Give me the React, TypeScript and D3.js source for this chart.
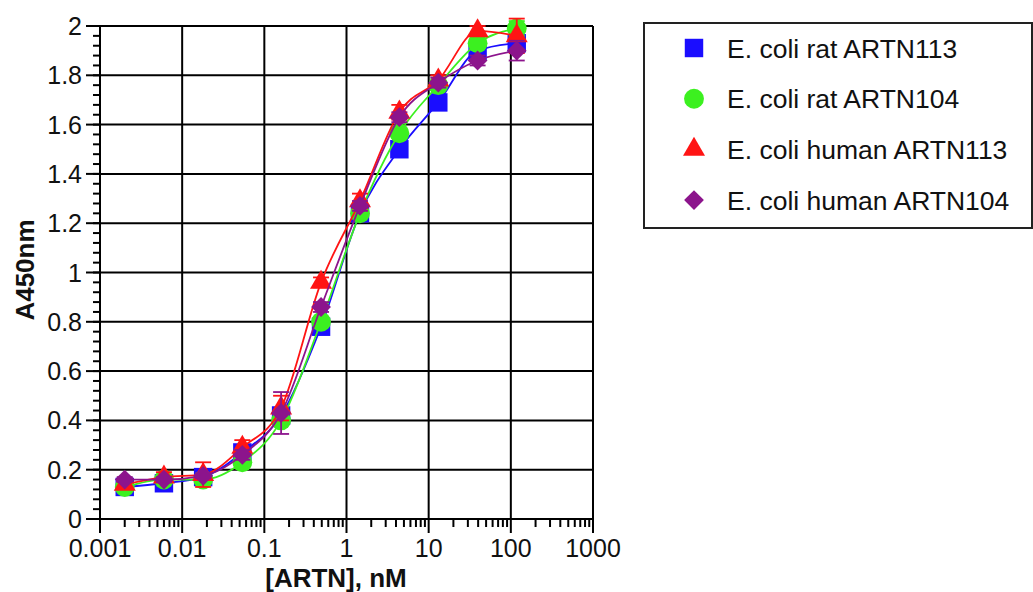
import React from "react";
import * as d3 from "d3";

// concentrations (nM), 3-fold dilution series
const conc = [0.002, 0.006, 0.018, 0.054, 0.16, 0.49, 1.46, 4.4, 13.1, 39.4, 118];

const ratArtn113 = [0.13, 0.145, 0.17, 0.27, 0.42, 0.78, 1.24, 1.5, 1.69, 1.9, 1.93];
const ratArtn113Err = [0.01, 0.01, 0.01, 0.02, 0.03, 0.02, 0.02, 0.02, 0.02, 0.02, 0.02];
const ratArtn104 = [0.13, 0.16, 0.16, 0.23, 0.4, 0.8, 1.24, 1.565, 1.76, 1.93, 1.99];
const ratArtn104Err = [0.01, 0.01, 0.01, 0.02, 0.02, 0.02, 0.02, 0.02, 0.02, 0.02, 0.03];
const humArtn113 = [0.14, 0.17, 0.18, 0.29, 0.45, 0.96, 1.29, 1.65, 1.78, 1.98, 1.96];
const humArtn113Err = [0.01, 0.02, 0.05, 0.03, 0.05, 0.02, 0.03, 0.03, 0.02, 0.02, 0.07];
const humArtn104 = [0.16, 0.16, 0.175, 0.26, 0.43, 0.86, 1.27, 1.63, 1.77, 1.86, 1.9];
const humArtn104Err = [0.01, 0.01, 0.01, 0.02, 0.085, 0.02, 0.02, 0.02, 0.02, 0.02, 0.04];

const seriesNames = [
  "E. coli rat ARTN113",
  "E. coli rat ARTN104",
  "E. coli human ARTN113",
  "E. coli human ARTN104",
];
const xTickLabels = ["0.001", "0.01", "0.1", "1", "10", "100", "1000"];
const yTickLabels = ["0", "0.2", "0.4", "0.6", "0.8", "1", "1.2", "1.4", "1.6", "1.8", "2"];

const series = [
  { name: seriesNames[0], y: ratArtn113, err: ratArtn113Err, color: "#1a0dff", shape: "square" },
  { name: seriesNames[1], y: ratArtn104, err: ratArtn104Err, color: "#3cf020", shape: "circle" },
  { name: seriesNames[2], y: humArtn113, err: humArtn113Err, color: "#ff1414", shape: "triangle" },
  { name: seriesNames[3], y: humArtn104, err: humArtn104Err, color: "#8c148c", shape: "diamond" },
];

const font = "'Liberation Sans', Arial, Helvetica, sans-serif";

const left = 100, right = 593, top = 26, bottom = 519;

const x = d3.scaleLog().domain([0.001, 1000]).range([left, right]);
const y = d3.scaleLinear().domain([0, 2]).range([bottom, top]);

const symbolPath = (shape: string) => {
  if (shape === "square") return d3.symbol(d3.symbolSquare, 340)()!;
  if (shape === "circle") return d3.symbol(d3.symbolCircle, 310)()!;
  if (shape === "triangle") return d3.symbol(d3.symbolTriangle, 210)()!;
  return d3.symbol(d3.symbolDiamond2, 250)()!;
};

const Marker = ({ shape, color, cx, cy }: { shape: string; color: string; cx: number; cy: number }) => (
  <path d={symbolPath(shape)} transform={`translate(${cx},${cy})`} fill={color} />
);

export default function App() {
  const decades = xTickLabels.map((t) => +t);
  const minors: number[] = [];
  for (let i = 0; i < decades.length - 1; i++) {
    for (let k = 2; k <= 9; k++) minors.push(decades[i] * k);
  }
  const yMajors = yTickLabels.map((t) => +t);
  const yMinors = d3.range(0, 2.0001, 0.04);

  const line = d3
    .line<number>()
    .x((_, i) => x(conc[i]))
    .y((d) => y(d))
    .curve(d3.curveMonotoneX);

  return (
    <svg
      width={1033}
      height={592}
      style={{ position: "absolute", left: 0, top: 0, background: "#fff" }}
      fontFamily={font}
    >
      {/* grid */}
      {decades.map((d) => (
        <line key={"gx" + d} x1={x(d)} x2={x(d)} y1={top} y2={bottom} stroke="#000" strokeWidth={2} />
      ))}
      {yMajors.map((d) => (
        <line key={"gy" + d} x1={left} x2={right} y1={y(d)} y2={y(d)} stroke="#000" strokeWidth={2} />
      ))}

      {/* y axis ticks */}
      {yMinors.map((d, i) => (
        <line key={"ym" + i} x1={left - 7} x2={left} y1={y(d)} y2={y(d)} stroke="#000" strokeWidth={2} />
      ))}
      {yMajors.map((d, i) => (
        <g key={"yt" + i}>
          <line x1={left - 14} x2={left} y1={y(d)} y2={y(d)} stroke="#000" strokeWidth={2} />
          <text x={left - 18} y={y(d)} dy="0.36em" textAnchor="end" fontSize={25} fill="#111">
            {yTickLabels[i]}
          </text>
        </g>
      ))}

      {/* x axis ticks */}
      {minors.map((d, i) => (
        <line key={"xm" + i} x1={x(d)} x2={x(d)} y1={bottom} y2={bottom + 8} stroke="#000" strokeWidth={2} />
      ))}
      {decades.map((d, i) => (
        <g key={"xt" + i}>
          <line x1={x(d)} x2={x(d)} y1={bottom} y2={bottom + 14} stroke="#000" strokeWidth={2} />
          <text x={x(d)} y={557} textAnchor="middle" fontSize={25} fill="#111">
            {xTickLabels[i]}
          </text>
        </g>
      ))}

      {/* axis titles */}
      <text x={336} y={587} textAnchor="middle" fontSize={26} fontWeight="bold" fill="#111">
        [ARTN], nM
      </text>
      <text
        transform={`translate(34,270) rotate(-90)`}
        textAnchor="middle"
        fontSize={26}
        fontWeight="bold"
        fill="#111"
      >
        A450nm
      </text>

      {/* series */}
      {series.map((s) => (
        <g key={s.name}>
          <path d={line(s.y)!} fill="none" stroke={s.color} strokeWidth={1.8} />
          {s.y.map((v, i) => (
            <g key={i} stroke={s.color} strokeWidth={1.8}>
              <line x1={x(conc[i])} x2={x(conc[i])} y1={y(v - s.err[i])} y2={y(v + s.err[i])} />
              <line x1={x(conc[i]) - 8} x2={x(conc[i]) + 8} y1={y(v + s.err[i])} y2={y(v + s.err[i])} />
              <line x1={x(conc[i]) - 8} x2={x(conc[i]) + 8} y1={y(v - s.err[i])} y2={y(v - s.err[i])} />
            </g>
          ))}
          {s.y.map((v, i) => (
            <Marker key={"m" + i} shape={s.shape} color={s.color} cx={x(conc[i])} cy={y(v)} />
          ))}
        </g>
      ))}

      {/* legend */}
      <rect x={644} y={23} width={388} height={205} fill="#fff" stroke="#222" strokeWidth={2} />
      {series.map((s, i) => (
        <g key={"lg" + i}>
          <Marker shape={s.shape} color={s.color} cx={694} cy={48 + i * 50.7} />
          <text x={727} y={48 + i * 50.7} dy="0.36em" fontSize={26.5} fill="#111">
            {s.name}
          </text>
        </g>
      ))}
    </svg>
  );
}
